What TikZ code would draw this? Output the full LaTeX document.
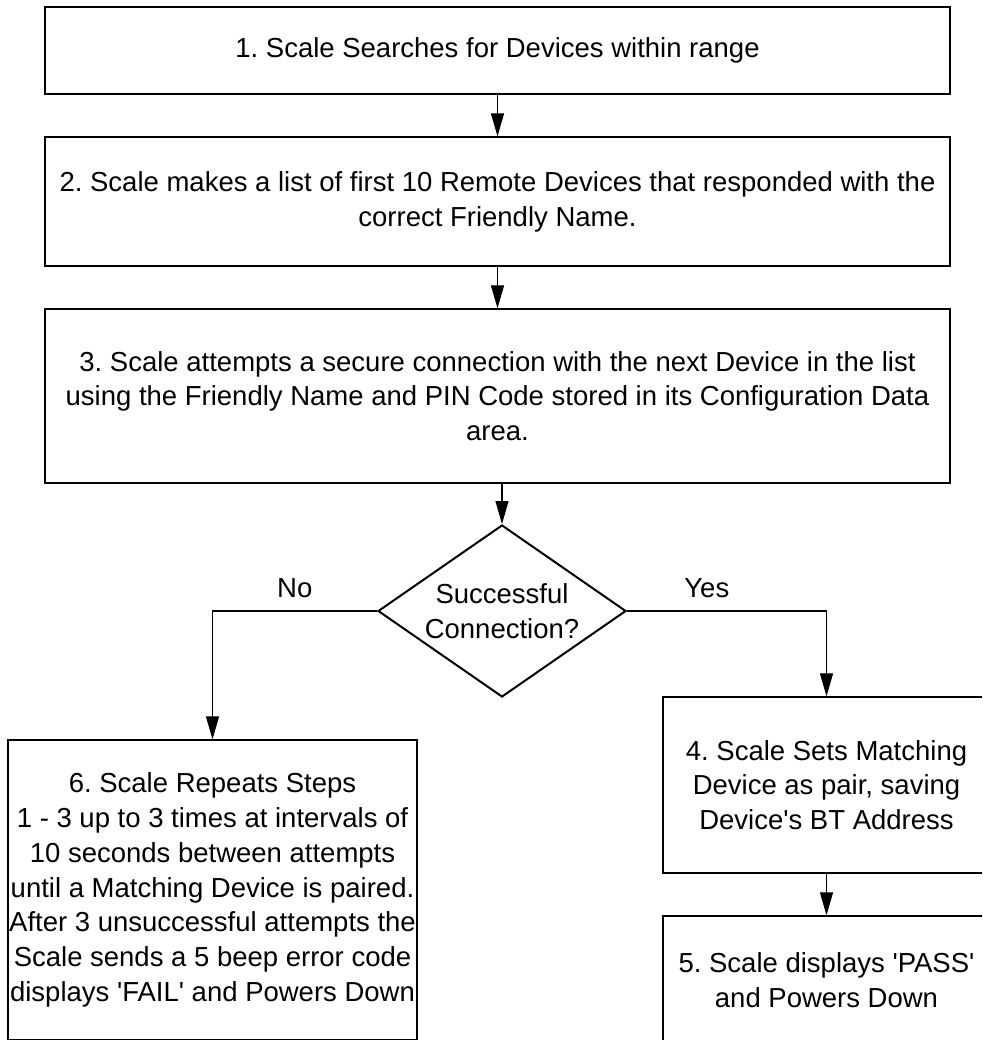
\documentclass[tikz,border=0pt]{standalone}
\usepackage{fontspec}
\setmainfont{Liberation Sans}
\usetikzlibrary{shapes.geometric,arrows.meta}
\frenchspacing

\begin{document}
\begin{tikzpicture}[x=1pt,y=-1pt,
    stepbox/.style={draw,line width=1.3pt,inner sep=0pt,align=center,
        font=\fontsize{27.5}{34.8}\selectfont},
    decision/.style={draw,diamond,aspect=1.44,line width=2pt,inner sep=0pt,
        minimum width=248pt,minimum height=172pt,align=center,
        font=\fontsize{27.5}{34.8}\selectfont},
    flow/.style={line width=1.2pt,-{Triangle[length=23pt,width=13pt]}},
    lbl/.style={inner sep=0pt,font=\fontsize{27.5}{34.8}\selectfont}]
    \useasboundingbox (0,0) rectangle (982,1040);
    \clip (0,0) rectangle (982,1040);
    \node[stepbox,minimum width=905pt,minimum height=87pt] (search) at (497.5,50.5)
        {1. Scale Searches for Devices within range};
    \node[stepbox,minimum width=905pt,minimum height=129pt] (list) at (497.5,201.5)
        {2. Scale makes a list of first 10 Remote Devices that responded with the\\correct Friendly Name.};
    \node[stepbox,minimum width=905pt,minimum height=174pt] (connect) at (497.5,396)
        {3. Scale attempts a secure connection with the next Device in the list\\using the Friendly Name and PIN Code stored in its Configuration Data\\area.};
    \node[decision] (ok) at (502,611) {Successful\\Connection?};
    \node[stepbox,minimum width=327pt,minimum height=176pt] (pair) at (826.5,785)
        {4. Scale Sets Matching\\Device as pair, saving\\Device\textquotesingle s BT Address};
    \node[stepbox,minimum width=327pt,minimum height=128pt] (pass) at (826.5,980)
        {5. Scale displays \textquotesingle PASS\textquotesingle\\and Powers Down};
    \node[stepbox,minimum width=409pt,minimum height=300pt] (repeat) at (212.5,890)
        {6. Scale Repeats Steps\\1 - 3 up to 3 times at intervals of\\10 seconds between attempts\\until a Matching Device is paired.\\After 3 unsuccessful attempts the\\Scale sends a 5 beep error code\\displays \textquotesingle FAIL\textquotesingle{} and Powers Down};
    \draw[flow] (search.south) -- (list.north);
    \draw[flow] (list.south) -- (connect.north);
    \draw[flow] (connect.south -| ok.north) -- (ok.north);
    \draw[flow] (ok.west) -| node[lbl,pos=0.25,above=13pt] {No} (repeat.north);
    \draw[flow] (ok.east) -| node[lbl,pos=0.2,above=13pt] {Yes} (pair.north);
    \draw[flow] (pair.south) -- (pass.north);
\end{tikzpicture}
\end{document}
